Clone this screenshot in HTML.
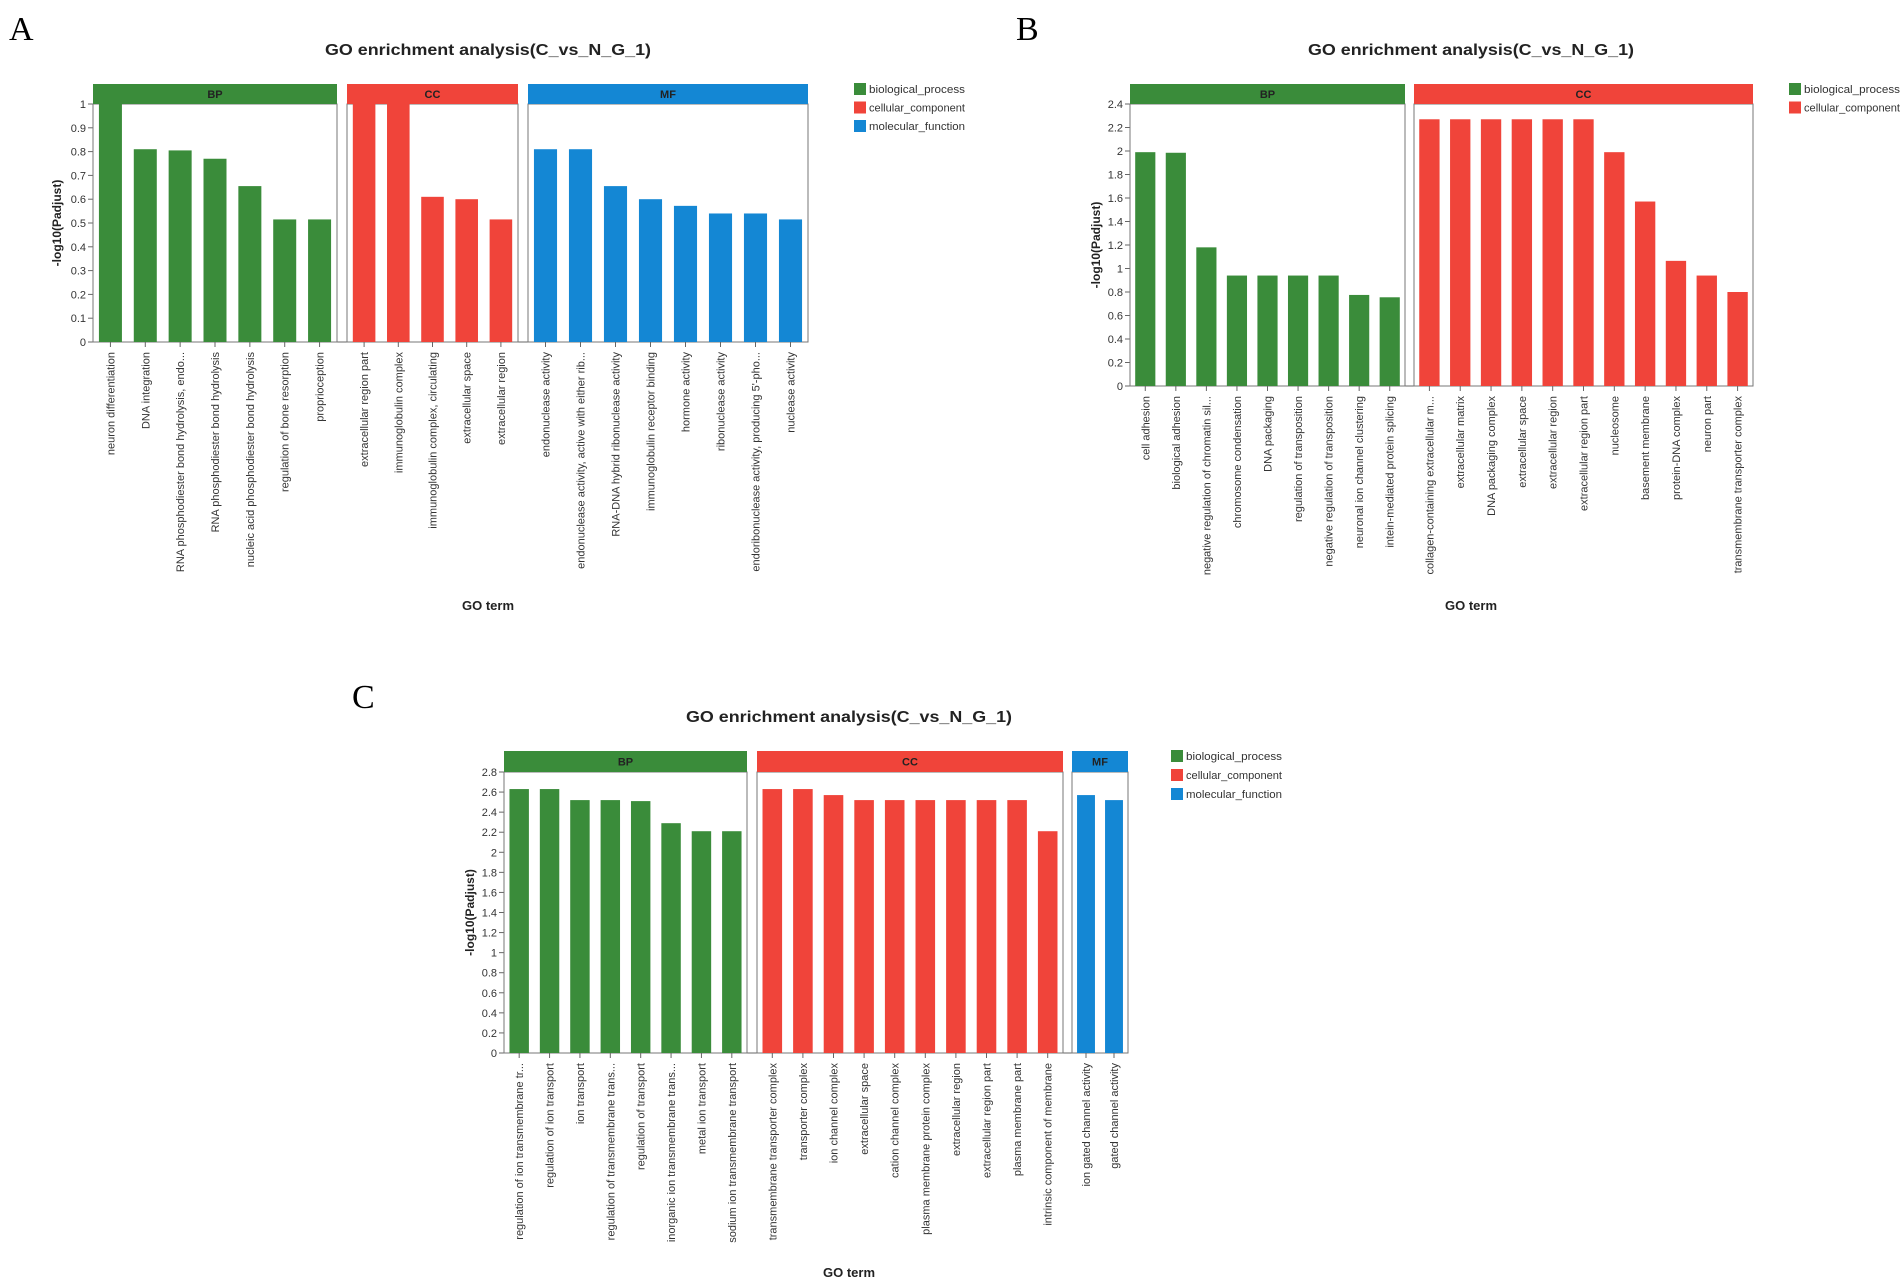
<!DOCTYPE html>
<html><head><meta charset="utf-8"><style>
html,body{margin:0;padding:0;background:#fff;}
svg{display:block;font-family:"Liberation Sans",Arial,sans-serif;}
</style></head><body>
<svg id="fig" width="1902" height="1287" viewBox="0 0 1902 1287" xmlns="http://www.w3.org/2000/svg"></svg>
<script>
// ---------- Panel A data ----------
const aBPTerms = ["neuron differentiation","DNA integration","RNA phosphodiester bond hydrolysis, endo...","RNA phosphodiester bond hydrolysis","nucleic acid phosphodiester bond hydrolysis","regulation of bone resorption","proprioception"];
const aBPValues = [1.0,0.81,0.805,0.77,0.655,0.515,0.515];
const aCCTerms = ["extracellular region part","immunoglobulin complex","immunoglobulin complex, circulating","extracellular space","extracellular region"];
const aCCValues = [1.0,1.0,0.61,0.60,0.515];
const aMFTerms = ["endonuclease activity","endonuclease activity, active with either rib...","RNA-DNA hybrid ribonuclease activity","immunoglobulin receptor binding","hormone activity","ribonuclease activity","endoribonuclease activity, producing 5'-pho...","nuclease activity"];
const aMFValues = [0.81,0.81,0.655,0.60,0.572,0.54,0.54,0.515];
const aTicks = ["0","0.1","0.2","0.3","0.4","0.5","0.6","0.7","0.8","0.9","1"];
// ---------- Panel B data ----------
const bBPTerms = ["cell adhesion","biological adhesion","negative regulation of chromatin sil...","chromosome condensation","DNA packaging","regulation of transposition","negative regulation of transposition","neuronal ion channel clustering","intein-mediated protein splicing"];
const bBPValues = [1.99,1.985,1.18,0.94,0.94,0.94,0.94,0.775,0.755];
const bCCTerms = ["collagen-containing extracellular m...","extracellular matrix","DNA packaging complex","extracellular space","extracellular region","extracellular region part","nucleosome","basement membrane","protein-DNA complex","neuron part","transmembrane transporter complex"];
const bCCValues = [2.27,2.27,2.27,2.27,2.27,2.27,1.99,1.57,1.065,0.94,0.80];
const bTicks = ["0","0.2","0.4","0.6","0.8","1","1.2","1.4","1.6","1.8","2","2.2","2.4"];
// ---------- Panel C data ----------
const cBPTerms = ["regulation of ion transmembrane tr...","regulation of ion transport","ion transport","regulation of transmembrane trans...","regulation of transport","inorganic ion transmembrane trans...","metal ion transport","sodium ion transmembrane transport"];
const cBPValues = [2.63,2.63,2.52,2.52,2.51,2.29,2.21,2.21];
const cCCTerms = ["transmembrane transporter complex","transporter complex","ion channel complex","extracellular space","cation channel complex","plasma membrane protein complex","extracellular region","extracellular region part","plasma membrane part","intrinsic component of membrane"];
const cCCValues = [2.63,2.63,2.57,2.52,2.52,2.52,2.52,2.52,2.52,2.21];
const cMFTerms = ["ion gated channel activity","gated channel activity"];
const cMFValues = [2.57,2.52];
const cTicks = ["0","0.2","0.4","0.6","0.8","1","1.2","1.4","1.6","1.8","2","2.2","2.4","2.6","2.8"];

const NS="http://www.w3.org/2000/svg";
const svg=document.getElementById('fig');
const COL={BP:"#3a8c3a",CC:"#f0443a",MF:"#1487d4"};
const LEG={BP:"biological_process",CC:"cellular_component",MF:"molecular_function"};
function mk(tag,attrs,parent,text){const e=document.createElementNS(NS,tag);for(const k in attrs)e.setAttribute(k,attrs[k]);if(text!==undefined)e.textContent=text;(parent||svg).appendChild(e);return e;}

function panel(cfg){
  const g=mk('g',{});
  
  
  const letter=mk('text',{x:cfg.letterX,y:cfg.letterY,'font-family':'"Liberation Serif",serif','font-size':34,fill:'#000'},g,cfg.id.toUpperCase());
  
  
  const t=mk('text',{x:cfg.titleX,y:cfg.titleY,'text-anchor':'middle','font-size':16,'font-weight':'bold',fill:'#222',textLength:326,lengthAdjust:'spacingAndGlyphs'},g,'GO enrichment analysis(C_vs_N_G_1)');
  
  
  const y0=cfg.y0,yTop=cfg.yTop,max=cfg.max;
  const yS=v=>y0-(v/max)*(y0-yTop);
  // y axis
  const ax0=cfg.facets[0].x0;
  mk('line',{x1:ax0-5,y1:y0,x2:cfg.facets[cfg.facets.length-1].x1,y2:y0,stroke:'#666','stroke-width':1},g);
  cfg.ticks.forEach(tk=>{
    const v=parseFloat(tk),y=yS(v);
    mk('line',{x1:ax0-5,y1:y,x2:ax0,y2:y,stroke:'#666','stroke-width':1},g);
    const tl=mk('text',{x:ax0-7,y:y+4,'text-anchor':'end','font-size':11,fill:'#333'},g,tk);
    
    
  });
  const yt=mk('text',{x:cfg.yTitleX,y:(y0+yTop)/2,'text-anchor':'middle','font-size':12,'font-weight':'bold',fill:'#222',transform:`rotate(-90 ${cfg.yTitleX} ${(y0+yTop)/2})`},g,'-log10(Padjust)');
  
  
  cfg.facets.forEach(f=>{
    const fg=mk('g',{},g);
    
    
    mk('rect',{x:f.x0,y:yTop,width:f.x1-f.x0,height:y0-yTop,fill:'none',stroke:'#777','stroke-width':1},fg);
    const st=mk('rect',{x:f.x0,y:cfg.stripY,width:f.x1-f.x0,height:yTop-cfg.stripY,fill:COL[f.cat]},fg);
    
    
    mk('text',{x:(f.x0+f.x1)/2,y:(cfg.stripY+yTop)/2+4,'text-anchor':'middle','font-size':11,'font-weight':'bold',fill:'#222'},fg,f.cat);
    const n=f.values.length,pitch=(f.x1-f.x0)/n,bw=pitch*cfg.bar;
    f.values.forEach((v,i)=>{
      const cx=f.x0+pitch*(i+0.5);
      const r=mk('rect',{x:cx-bw/2,y:yS(v),width:bw,height:y0-yS(v),fill:COL[f.cat]},fg);
      
      
      mk('line',{x1:cx,y1:y0,x2:cx,y2:y0+5,stroke:'#666','stroke-width':1},fg);
      const ly=y0+10;
      const lt=mk('text',{x:cx+4,y:ly,'text-anchor':'end','font-size':11,fill:'#333',transform:`rotate(-90 ${cx+4} ${ly})`},fg,f.terms[i]);
      
      
    });
  });
  const xt=mk('text',{x:cfg.titleX,y:cfg.xTitleY,'text-anchor':'middle','font-size':13,'font-weight':'bold',fill:'#222'},g,'GO term');
  
  
  cfg.facets.forEach((f,i)=>{
    const lg=mk('g',{},g);
    
    
    const ly=cfg.legY+i*cfg.legStep;
    mk('rect',{x:cfg.legX,y:ly,width:12,height:12,fill:COL[f.cat]},lg);
    mk('text',{x:cfg.legX+15,y:ly+10,'font-size':11,fill:'#333',textLength:96,lengthAdjust:'spacingAndGlyphs'},lg,LEG[f.cat]);
  });
}

panel({id:'a',letterX:9,letterY:40,titleX:488,titleY:55,stripY:84,yTop:104,y0:342,max:1,ticks:aTicks,yTitleX:61,xTitleY:610,bar:0.66,
  legX:854,legY:83,legStep:18.5,
  facets:[{cat:'BP',x0:93,x1:337,terms:aBPTerms,values:aBPValues},
          {cat:'CC',x0:347,x1:518,terms:aCCTerms,values:aCCValues},
          {cat:'MF',x0:528,x1:808,terms:aMFTerms,values:aMFValues}]});
panel({id:'b',letterX:1016,letterY:40,titleX:1471,titleY:55,stripY:84,yTop:104,y0:386,max:2.4,ticks:bTicks,yTitleX:1100,xTitleY:610,bar:0.66,
  legX:1789,legY:83,legStep:18.5,
  facets:[{cat:'BP',x0:1130,x1:1405,terms:bBPTerms,values:bBPValues},
          {cat:'CC',x0:1414,x1:1753,terms:bCCTerms,values:bCCValues}]});
panel({id:'c',letterX:352,letterY:708,titleX:849,titleY:722,stripY:751,yTop:772,y0:1053,max:2.8,ticks:cTicks,yTitleX:474,xTitleY:1277,bar:0.64,
  legX:1171,legY:750,legStep:19,
  facets:[{cat:'BP',x0:504,x1:747,terms:cBPTerms,values:cBPValues},
          {cat:'CC',x0:757,x1:1063,terms:cCCTerms,values:cCCValues},
          {cat:'MF',x0:1072,x1:1128,terms:cMFTerms,values:cMFValues}]});
</script>
</body></html>
